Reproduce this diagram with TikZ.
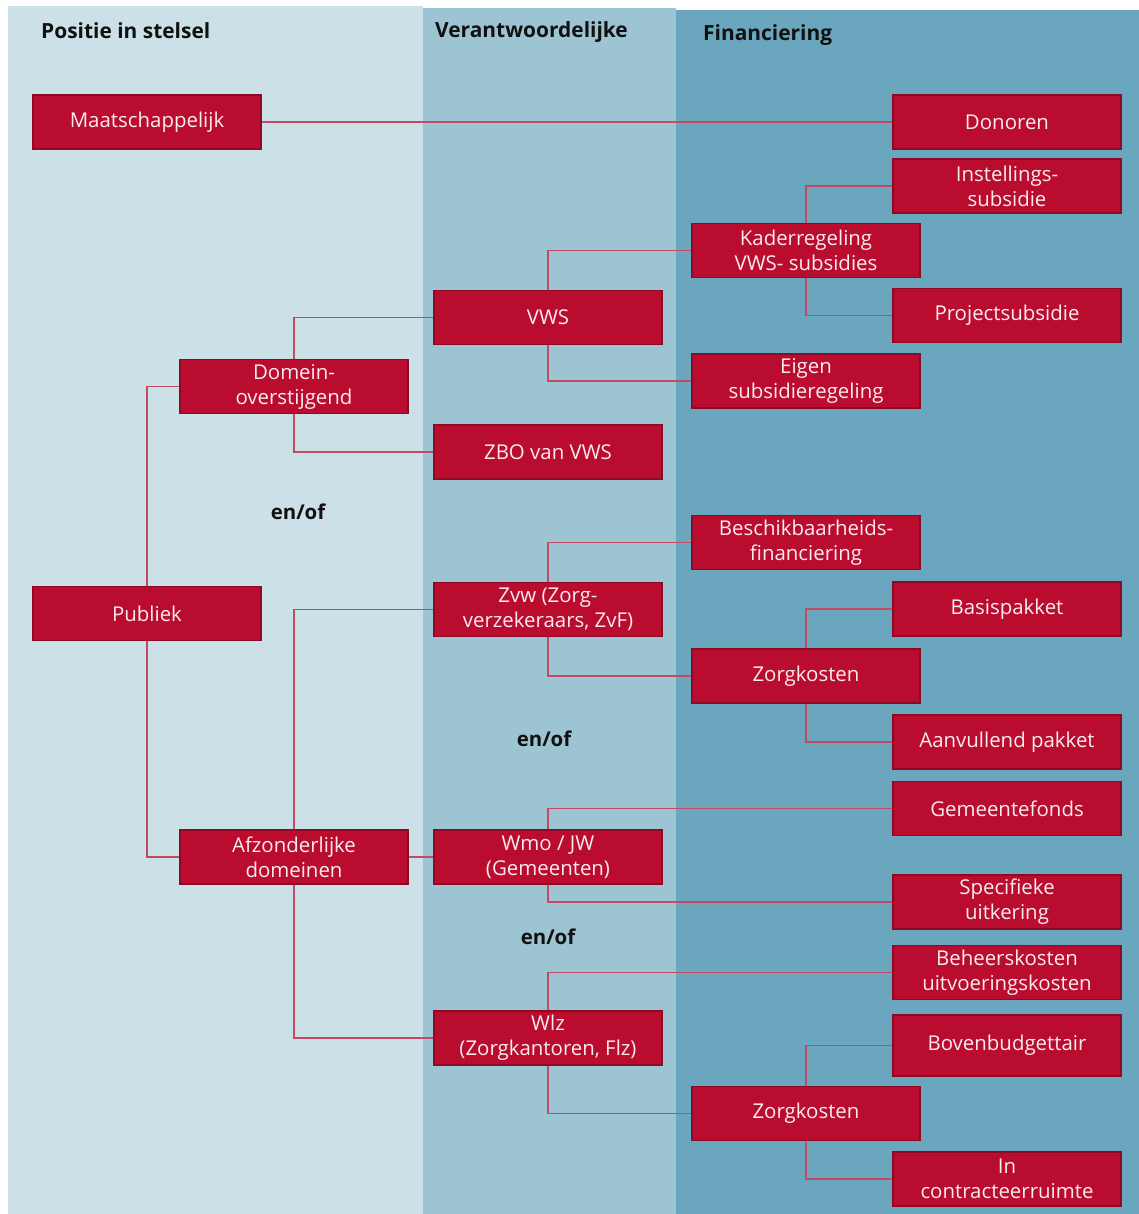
\documentclass[tikz,border=0pt]{standalone}
\usepackage{fontspec}
\setmainfont{Open Sans}
\usepackage{tikz}
\definecolor{paneL}{HTML}{CCE0E7}
\definecolor{paneM}{HTML}{9DC4D3}
\definecolor{paneR}{HTML}{6AA6BD}
\definecolor{boxred}{HTML}{B90C2F}
\definecolor{boxedge}{HTML}{8E0A24}
\definecolor{wire}{HTML}{C24A64}
\definecolor{boxtext}{HTML}{F9ECEE}
\definecolor{head}{HTML}{111111}
\tikzset{
  box/.style={draw=boxedge, fill=boxred, line width=1.4pt, minimum width=228bp,
    minimum height=54bp, inner sep=0pt, align=center, text=boxtext,
    font=\fontsize{20.5}{25}\selectfont},
  wire/.style={draw=wire, line width=1.3pt},
  head/.style={text=head, anchor=base west, inner sep=0pt,
    font=\fontsize{21}{25}\selectfont\bfseries},
  andor/.style={text=head, font=\fontsize{20.5}{25}\selectfont\bfseries},
}

\begin{document}
\begin{tikzpicture}[x=1bp,y=-1bp]
  \useasboundingbox (0,0) rectangle (1139,1214);
  % columns
  \fill[paneL] (8,6) rectangle (423,1214);
  \fill[paneM] (423,8) rectangle (676,1214);
  \fill[paneR] (676,10) rectangle (1139,1214);
  \node[head] (hpos) at (41,38) {Positie in stelsel};
  \node[head] (hver) at (435,37) {Verantwoordelijke};
  \node[head] (hfin) at (703,40) {Financiering};
  % boxes
  \node[box] (maat) at (147,122) {Maatschappelijk};
  \node[box] (dono) at (1007,122) {Donoren};
  \node[box] (inst) at (1007,186) {Instellings-\\subsidie};
  \node[box] (kade) at (806,250.5) {Kaderregeling\\VWS- subsidies};
  \node[box] (proj) at (1007,315.5) {Projectsubsidie};
  \node[box] (vws) at (548,317.5) {VWS};
  \node[box] (eige) at (806,381) {Eigen\\subsidieregeling};
  \node[box] (domo) at (294,386.5) {Domein-\\overstijgend};
  \node[box] (zbo) at (548,452) {ZBO van VWS};
  \node[box] (besc) at (806,542.5) {Beschikbaarheids-\\financiering};
  \node[box] (publ) at (147,613.5) {Publiek};
  \node[box] (zvw) at (548,609.5) {Zvw (Zorg-\\verzekeraars, ZvF)};
  \node[box] (basi) at (1007,609) {Basispakket};
  \node[box] (zkA) at (806,676) {Zorgkosten};
  \node[box] (aanv) at (1007,742) {Aanvullend pakket};
  \node[box] (geme) at (1007,808.5) {Gemeentefonds};
  \node[box] (afzo) at (294,857) {Afzonderlijke\\domeinen};
  \node[box] (wmo) at (548,857) {Wmo / JW\\(Gemeenten)};
  \node[box] (spec) at (1007,902) {Specifieke\\uitkering};
  \node[box] (behe) at (1007,972.5) {Beheerskosten\\uitvoeringskosten};
  \node[box] (wlz) at (548,1038) {Wlz\\(Zorgkantoren, Flz)};
  \node[box, minimum height=61bp] (bove) at (1007,1045.5) {Bovenbudgettair};
  \node[box] (zkB) at (806,1113.5) {Zorgkosten};
  \node[box] (inco) at (1007,1179) {In\\contracteerruimte};
  % en/of
  \node[andor] (eo1) at (298,512) {en/of};
  \node[andor] (eo2) at (544,739) {en/of};
  \node[andor] (eo3) at (548,937) {en/of};
  % connectors
  \draw[wire] (maat.east) -- (dono.west);
  \draw[wire] (afzo.east) -- (wmo.west);
  \foreach \a/\b in {kade.north/inst.west, kade.south/proj.west,
      vws.north/kade.west, vws.south/eige.west,
      domo.north/vws.west, domo.south/zbo.west,
      publ.north/domo.west, publ.south/afzo.west,
      afzo.north/zvw.west, afzo.south/wlz.west,
      zvw.north/besc.west, zvw.south/zkA.west,
      zkA.north/basi.west, zkA.south/aanv.west,
      wmo.north/geme.west, wmo.south/spec.west,
      wlz.north/behe.west, wlz.south/zkB.west,
      zkB.north/bove.west, zkB.south/inco.west}
    \draw[wire] (\a) |- (\b);
\end{tikzpicture}
\end{document}
